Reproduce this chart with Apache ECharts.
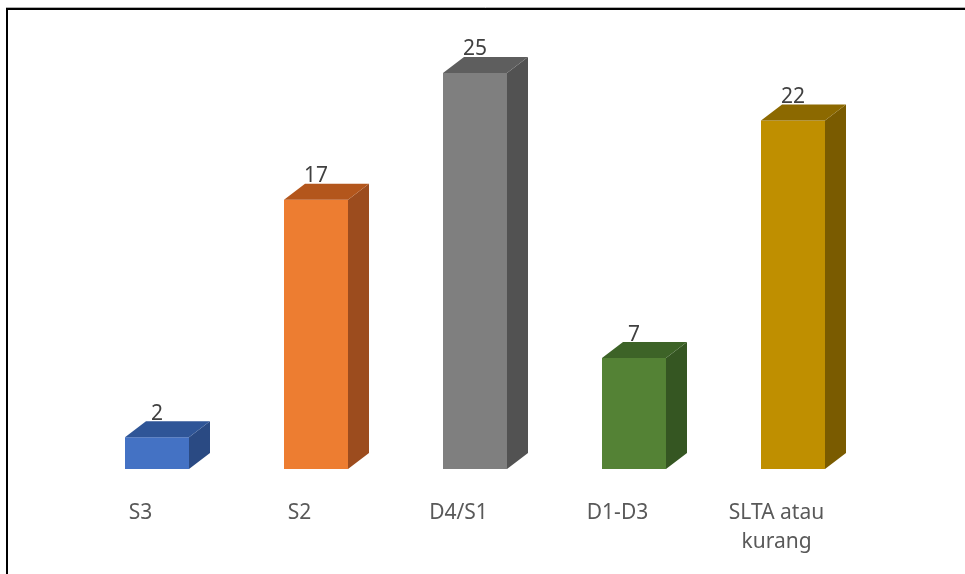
<!DOCTYPE html>
<html>
<head>
<meta charset="utf-8">
<script src="https://cdn.jsdelivr.net/npm/echarts@6/dist/echarts.min.js"></script>
<style>html,body{margin:0;padding:0;background:#fff}#c{width:965px;height:574px}</style>
</head>
<body>
<div id="c"></div>
<script>
var categories = ['S3', 'S2', 'D4/S1', 'D1-D3', 'SLTA atau\nkurang'];
var values = [2, 17, 25, 7, 22];
var frontColors = ['#4472C4', '#ED7D31', '#7F7F7F', '#548235', '#BF8F00'];
var topColors = ['#2F5597', '#B3561C', '#5E5E5E', '#3D6327', '#8C6900'];
var sideColors = ['#2A4A83', '#9C4C1E', '#525252', '#355622', '#7A5B00'];

var chart = echarts.init(document.getElementById('c'), null, {renderer: 'canvas'});
var DX = 21, DY = 16;
chart.setOption({
  animation: false,
  grid: {left: 77.5, right: 92.5, top: 73, bottom: 105},
  xAxis: {
    type: 'category', data: categories,
    axisLine: {show: false}, axisTick: {show: false}, splitLine: {show: false},
    axisLabel: {
      interval: 0, margin: 30, color: '#595959', fontFamily: 'Noto Sans', fontSize: 21,
      lineHeight: 29, padding: [0, 33, 0, 0]
    }
  },
  yAxis: {type: 'value', min: 0, max: 25, show: false, splitLine: {show: false}},
  series: [{
    type: 'custom',
    data: values.map(function (v, i) { return [i, v]; }),
    encode: {x: 0, y: 1},
    renderItem: function (params, api) {
      var i = api.value(0), v = api.value(1);
      var base = api.coord([i, 0]);
      var top = api.coord([i, v]);
      var w = api.size([1, 0])[0] * 0.4025;
      var x0 = base[0] - w / 2, x1 = base[0] + w / 2;
      var yb = base[1], yt = top[1];
      return {
        type: 'group',
        children: [
          {type: 'rect', shape: {x: x0, y: yt, width: w, height: yb - yt}, style: {fill: frontColors[i]}},
          {type: 'polygon', shape: {points: [[x1, yt], [x1 + DX, yt - DY], [x1 + DX, yb - DY], [x1, yb]]}, style: {fill: sideColors[i]}},
          {type: 'polygon', shape: {points: [[x0, yt], [x0 + DX, yt - DY], [x1 + DX, yt - DY], [x1, yt]]}, style: {fill: topColors[i]}},
          {type: 'text', x: base[0], y: yt - DY + 3, style: {text: String(v), fill: '#404040', fontFamily: 'Noto Sans', fontSize: 21, align: 'center', verticalAlign: 'bottom'}}
        ]
      };
    }
  }],
  graphic: [
    {type: 'line', shape: {x1: 6, y1: 7.5, x2: 965, y2: 7.5}, style: {stroke: '#b0b0b0', lineWidth: 1}},
    {type: 'line', shape: {x1: 6, y1: 9, x2: 965, y2: 9}, style: {stroke: '#000', lineWidth: 2}},
    {type: 'line', shape: {x1: 7, y1: 8, x2: 7, y2: 574}, style: {stroke: '#000', lineWidth: 2}}
  ]
});
</script>
</body>
</html>
